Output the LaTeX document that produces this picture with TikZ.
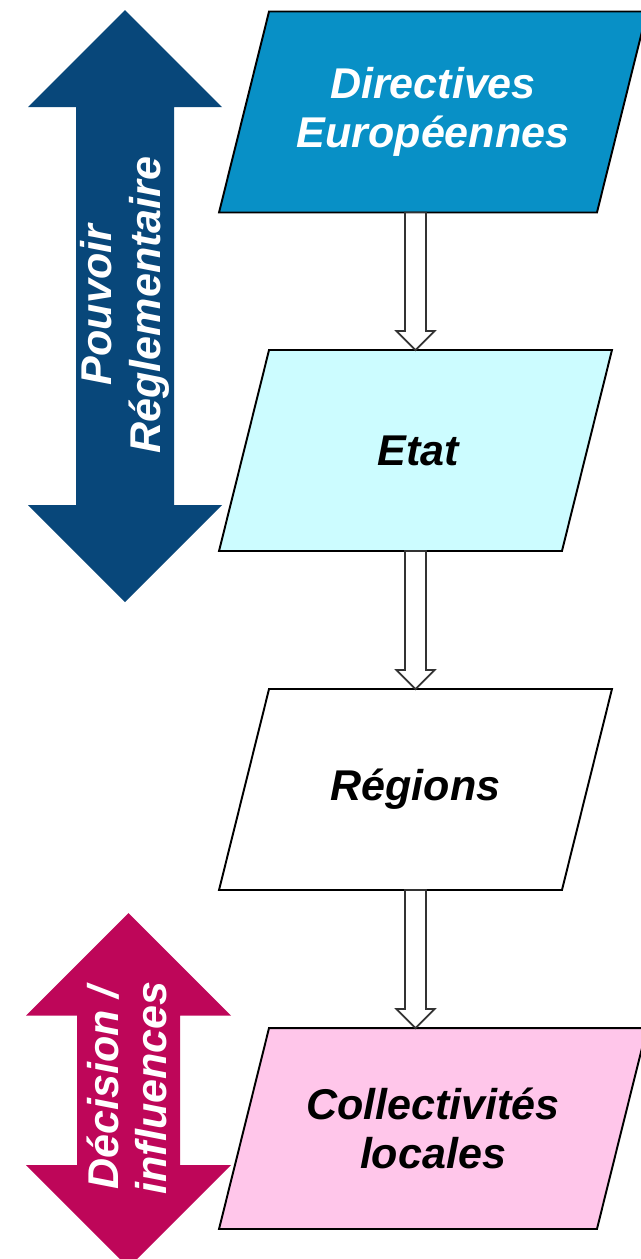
\documentclass[tikz,border=0pt]{standalone}
\usepackage{fontspec}
\setmainfont{Liberation Sans}
\usetikzlibrary{calc,backgrounds}

\definecolor{dirblue}{HTML}{0890C6}
\definecolor{etatcyan}{HTML}{CCFCFF}
\definecolor{collpink}{HTML}{FFC6EA}
\definecolor{arrowblue}{HTML}{08477A}
\definecolor{arrowmag}{HTML}{BE0659}

\newcommand{\flecheCreuse}[2]{%
  \draw[hollow] ($(#1)+(-10.5,0)$) -- ($(#2)+(-10.5,-19)$) -- ($(#2)+(-19,-19)$) -- (#2)
    -- ($(#2)+(19,-19)$) -- ($(#2)+(10.5,-19)$) -- ($(#1)+(10.5,0)$) -- cycle;}

\begin{document}
\begin{tikzpicture}[x=0.02cm,y=-0.02cm]
    \tikzset{bigfont/.style = {font=\bfseries\itshape\fontsize{24.5}{27.8}\selectfont}}
    \tikzset{level/.style = {shape=rectangle,draw=none,outer sep=0pt,minimum height=4.02cm,align=center,bigfont}}
    \tikzset{wide/.style = {level,minimum width=7.56cm}}
    \tikzset{narrow/.style = {level,minimum width=6.86cm}}
    \tikzset{arrowtext/.style = {rotate=90,align=center,text=white,bigfont}}
    \tikzset{hollow/.style = {draw=black!80,fill=white,line width=1pt,line join=miter}}
    \tikzset{frame/.style = {draw=black,line width=1.1pt}}

    \useasboundingbox (0,0) rectangle (640,1259);

    % levels
    \node[wide,text=white] (dir) at (433,112) {Directives\\Européennes};
    \node[narrow] (etat) at (415.5,450.5) {\hspace*{3pt}Etat};
    \node[narrow] (reg) at (415.5,789.5) {Régions};
    \node[wide] (coll) at (433,1128.5) {Collectivités\\locales};

    \begin{scope}[on background layer]
    \foreach \n/\c in {dir/dirblue,etat/etatcyan,reg/white,coll/collpink}
      \filldraw[frame,fill=\c] ($(\n.south west)+(-25,0)$) -- ($(\n.south east)+(-25,0)$)
        -- ($(\n.north east)+(25,0)$) -- ($(\n.north west)+(25,0)$) -- cycle;
    \end{scope}

    % links
    \coordinate (d1) at (etat.north |- dir.south);
    \coordinate (c1) at (reg.south |- coll.north);
    \flecheCreuse{d1}{etat.north}
    \flecheCreuse{etat.south}{reg.north}
    \flecheCreuse{reg.south}{c1}

    % side arrows
    \fill[arrowblue] (125,10) -- (222,107) -- (174,107) -- (174,505) -- (222,505) -- (125,602)
      -- (28,505) -- (76,505) -- (76,107) -- (28,107) -- cycle;
    \node[arrowtext] (pouvoir) at (125,305) {Pouvoir\\Réglementaire};

    \fill[arrowmag] (128.5,913) -- (231,1015.5) -- (180,1015.5) -- (180,1165) -- (231,1165) -- (128.5,1267.5)
      -- (26,1165) -- (77,1165) -- (77,1015.5) -- (26,1015.5) -- cycle;
    \node[arrowtext] (decision) at (127,1088) {Décision /\\influences};
\end{tikzpicture}
\end{document}
